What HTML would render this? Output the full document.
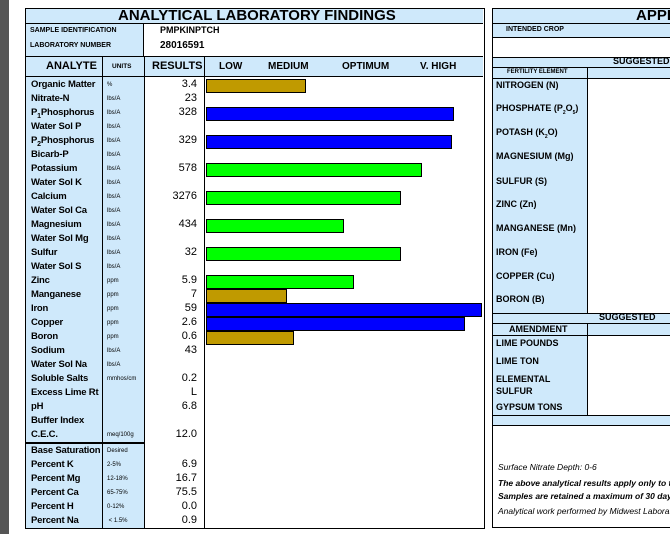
<!DOCTYPE html>
<html><head><meta charset="utf-8"><style>
*{margin:0;padding:0;box-sizing:border-box}
body{width:670px;height:534px;background:#fff;position:relative;overflow:hidden;font-family:"Liberation Sans",sans-serif;color:#000}
.a{position:absolute}
.bl{background:#cfe9fb}
.r{position:absolute;left:0;height:14px;width:460px}
.n{position:absolute;left:5px;top:1px;font-size:9.5px;letter-spacing:-0.2px;font-weight:bold;white-space:nowrap}
.u{position:absolute;left:81px;top:4px;font-size:6px;white-space:nowrap}
.v{position:absolute;left:119px;width:52px;text-align:right;top:0;font-size:11px}
.b{position:absolute;top:1px;height:14px;border:1px solid #000;left:180px}
.g{background:#c09a00}.bb{background:#0000ff}.gr{background:#00ff00}
.rl{position:absolute;left:3px;font-size:9px;font-weight:bold;white-space:nowrap}
.it{position:absolute;left:5px;font-size:8.5px;font-style:italic;white-space:nowrap}
</style></head><body>
<div class="a" style="left:0;top:0;width:9px;height:534px;background:#555"></div>

<div class="a" style="left:25px;top:8px;width:460px;height:521px;border:1.5px solid #000">
 <div class="a bl" style="left:0;top:0;width:457px;height:15px;border-bottom:1px solid #000"></div>
 <div class="a" style="left:92px;top:-2px;font-size:15px;font-weight:bold;white-space:nowrap">ANALYTICAL LABORATORY FINDINGS</div>
 <div class="a bl" style="left:0;top:15px;width:118px;height:32px;border-right:1px solid #000"></div>
 <div class="a" style="left:4px;top:18px;font-size:7px;font-weight:bold">SAMPLE IDENTIFICATION</div>
 <div class="a" style="left:4px;top:33px;font-size:7px;font-weight:bold">LABORATORY NUMBER</div>
 <div class="a" style="left:134px;top:16px;font-size:9px;font-weight:bold">PMPKINPTCH</div>
 <div class="a" style="left:134px;top:31px;font-size:10px;font-weight:bold">28016591</div>
 <div class="a bl" style="left:0;top:47px;width:457px;height:21px;border-top:1px solid #000;border-bottom:1px solid #000"></div>
 <div class="a" style="left:76px;top:47px;width:1px;height:21px;background:#000"></div>
 <div class="a" style="left:118px;top:47px;width:1px;height:21px;background:#000"></div>
 <div class="a" style="left:178px;top:47px;width:1px;height:21px;background:#000"></div>
 <div class="a" style="left:20px;top:51px;font-size:11px;font-weight:bold">ANALYTE</div>
 <div class="a" style="left:86px;top:54px;font-size:6.5px;font-weight:bold">UNITS</div>
 <div class="a" style="left:126px;top:51px;font-size:11px;font-weight:bold">RESULTS</div>
 <div class="a" style="left:193px;top:52px;font-size:10px;font-weight:bold">LOW</div>
 <div class="a" style="left:242px;top:52px;font-size:10px;font-weight:bold">MEDIUM</div>
 <div class="a" style="left:316px;top:52px;font-size:10px;font-weight:bold">OPTIMUM</div>
 <div class="a" style="left:394px;top:52px;font-size:10px;font-weight:bold">V. HIGH</div>
 <div class="a bl" style="left:0;top:68px;width:118px;height:451px"></div>
 <div class="a" style="left:76px;top:68px;width:1px;height:451px;background:#000"></div>
 <div class="a" style="left:118px;top:68px;width:1px;height:451px;background:#000"></div>
 <div class="a" style="left:178px;top:68px;width:1px;height:451px;background:#000"></div>
 <div class="a" style="left:0;top:433px;width:119px;height:1.5px;background:#000"></div>
 <div class="a" style="left:0;top:68px;width:460px">
  <div class="r" style="top:1px"><span class="n">Organic Matter</span><span class="u">%</span><span class="v">3.4</span><div class="b g" style="width:100px"></div></div>
  <div class="r" style="top:15px"><span class="n">Nitrate-N</span><span class="u">lbs/A</span><span class="v">23</span></div>
  <div class="r" style="top:29px"><span class="n">P<sub style="font-size:7px">1</sub>Phosphorus</span><span class="u">lbs/A</span><span class="v">328</span><div class="b bb" style="width:248px"></div></div>
  <div class="r" style="top:43px"><span class="n">Water Sol P</span><span class="u">lbs/A</span></div>
  <div class="r" style="top:57px"><span class="n">P<sub style="font-size:7px">2</sub>Phosphorus</span><span class="u">lbs/A</span><span class="v">329</span><div class="b bb" style="width:246px"></div></div>
  <div class="r" style="top:71px"><span class="n">Bicarb-P</span><span class="u">lbs/A</span></div>
  <div class="r" style="top:85px"><span class="n">Potassium</span><span class="u">lbs/A</span><span class="v">578</span><div class="b gr" style="width:216px"></div></div>
  <div class="r" style="top:99px"><span class="n">Water Sol K</span><span class="u">lbs/A</span></div>
  <div class="r" style="top:113px"><span class="n">Calcium</span><span class="u">lbs/A</span><span class="v">3276</span><div class="b gr" style="width:195px"></div></div>
  <div class="r" style="top:127px"><span class="n">Water Sol Ca</span><span class="u">lbs/A</span></div>
  <div class="r" style="top:141px"><span class="n">Magnesium</span><span class="u">lbs/A</span><span class="v">434</span><div class="b gr" style="width:138px"></div></div>
  <div class="r" style="top:155px"><span class="n">Water Sol Mg</span><span class="u">lbs/A</span></div>
  <div class="r" style="top:169px"><span class="n">Sulfur</span><span class="u">lbs/A</span><span class="v">32</span><div class="b gr" style="width:195px"></div></div>
  <div class="r" style="top:183px"><span class="n">Water Sol S</span><span class="u">lbs/A</span></div>
  <div class="r" style="top:197px"><span class="n">Zinc</span><span class="u">ppm</span><span class="v">5.9</span><div class="b gr" style="width:148px"></div></div>
  <div class="r" style="top:211px"><span class="n">Manganese</span><span class="u">ppm</span><span class="v">7</span><div class="b g" style="width:81px"></div></div>
  <div class="r" style="top:225px"><span class="n">Iron</span><span class="u">ppm</span><span class="v">59</span><div class="b bb" style="width:276px"></div></div>
  <div class="r" style="top:239px"><span class="n">Copper</span><span class="u">ppm</span><span class="v">2.6</span><div class="b bb" style="width:259px"></div></div>
  <div class="r" style="top:253px"><span class="n">Boron</span><span class="u">ppm</span><span class="v">0.6</span><div class="b g" style="width:88px"></div></div>
  <div class="r" style="top:267px"><span class="n">Sodium</span><span class="u">lbs/A</span><span class="v">43</span></div>
  <div class="r" style="top:281px"><span class="n">Water Sol Na</span><span class="u">lbs/A</span></div>
  <div class="r" style="top:295px"><span class="n">Soluble Salts</span><span class="u">mmhos/cm</span><span class="v">0.2</span></div>
  <div class="r" style="top:309px"><span class="n">Excess Lime Rt</span><span class="v">L</span></div>
  <div class="r" style="top:323px"><span class="n">pH</span><span class="v">6.8</span></div>
  <div class="r" style="top:337px"><span class="n">Buffer Index</span></div>
  <div class="r" style="top:351px"><span class="n">C.E.C.</span><span class="u">meq/100g</span><span class="v">12.0</span></div>
  <div class="r" style="top:367px"><span class="n">Base Saturation</span><span class="u">Desired</span></div>
  <div class="r" style="top:381px"><span class="n">Percent K</span><span class="u">2-5%</span><span class="v">6.9</span></div>
  <div class="r" style="top:395px"><span class="n">Percent Mg</span><span class="u">12-18%</span><span class="v">16.7</span></div>
  <div class="r" style="top:409px"><span class="n">Percent Ca</span><span class="u">65-75%</span><span class="v">75.5</span></div>
  <div class="r" style="top:423px"><span class="n">Percent H</span><span class="u">0-12%</span><span class="v">0.0</span></div>
  <div class="r" style="top:437px"><span class="n">Percent Na</span><span class="u">&nbsp;&lt; 1.5%</span><span class="v">0.9</span></div>
 </div>
</div>

<div class="a" style="left:492px;top:8px;width:178px;height:520px;overflow:hidden">
<div class="a" style="left:0;top:0;width:190px;height:520px;border:1.5px solid #000">
 <div class="a bl" style="left:0;top:0;width:190px;height:15px;border-bottom:1px solid #000"></div>
 <div class="a" style="left:143px;top:-2px;font-size:15px;font-weight:bold;white-space:nowrap">APPLICATION</div>
 <div class="a bl" style="left:0;top:15px;width:190px;height:14px;border-bottom:1px solid #000"></div>
 <div class="a" style="left:13px;top:17px;font-size:7px;font-weight:bold">INTENDED CROP</div>
 <div class="a bl" style="left:0;top:48px;width:190px;height:11px;border-top:1px solid #000;border-bottom:1px solid #000"></div>
 <div class="a" style="left:120px;top:47px;font-size:9px;font-weight:bold">SUGGESTED</div>
 <div class="a bl" style="left:0;top:59px;width:190px;height:11px;border-bottom:1px solid #000"></div>
 <div class="a bl" style="left:0;top:70px;width:95px;height:234px;border-right:1px solid #000"></div>
 <div class="a" style="left:94px;top:59px;width:1px;height:11px;background:#000"></div>
 <div class="a" style="left:14px;top:60px;font-size:6px;font-weight:bold">FERTILITY ELEMENT</div>
 <div class="rl" style="top:71px">NITROGEN (N)</div>
 <div class="rl" style="top:94px">PHOSPHATE (P<sub style="font-size:5px">2</sub>O<sub style="font-size:5px">5</sub>)</div>
 <div class="rl" style="top:118px">POTASH (K<sub style="font-size:5px">2</sub>O)</div>
 <div class="rl" style="top:142px">MAGNESIUM (Mg)</div>
 <div class="rl" style="top:167px">SULFUR (S)</div>
 <div class="rl" style="top:190px">ZINC (Zn)</div>
 <div class="rl" style="top:214px">MANGANESE (Mn)</div>
 <div class="rl" style="top:238px">IRON (Fe)</div>
 <div class="rl" style="top:262px">COPPER (Cu)</div>
 <div class="rl" style="top:285px">BORON (B)</div>
 <div class="a bl" style="left:0;top:304px;width:190px;height:11px;border-top:1px solid #000;border-bottom:1px solid #000"></div>
 <div class="a" style="left:106px;top:303px;font-size:9px;font-weight:bold">SUGGESTED</div>
 <div class="a bl" style="left:0;top:315px;width:190px;height:12px;border-bottom:1px solid #000"></div>
 <div class="a bl" style="left:0;top:327px;width:95px;height:79px;border-right:1px solid #000"></div>
 <div class="a" style="left:94px;top:315px;width:1px;height:12px;background:#000"></div>
 <div class="a" style="left:16px;top:315px;font-size:9px;font-weight:bold">AMENDMENT</div>
 <div class="rl" style="top:329px">LIME POUNDS</div>
 <div class="rl" style="top:347px">LIME TON</div>
 <div class="rl" style="top:364px;line-height:12px">ELEMENTAL<br>SULFUR</div>
 <div class="rl" style="top:393px">GYPSUM TONS</div>
 <div class="a bl" style="left:0;top:406px;width:190px;height:11px;border-top:1px solid #000;border-bottom:1px solid #000"></div>
 <div class="it" style="top:453px">Surface Nitrate Depth: 0-6</div>
 <div class="it" style="top:469px;font-weight:bold">The above analytical results apply only to the sample submitted.</div>
 <div class="it" style="top:482px;font-weight:bold">Samples are retained a maximum of 30 days after testing.</div>
 <div class="it" style="top:497px">Analytical work performed by Midwest Laboratories</div>
</div>
</div>
</body></html>
